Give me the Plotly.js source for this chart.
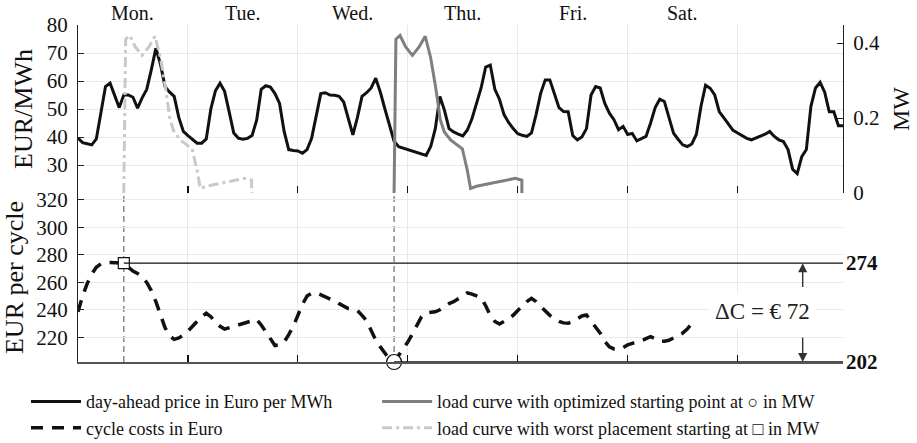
<!DOCTYPE html>
<html>
<head>
<meta charset="utf-8">
<script src="https://cdn.plot.ly/plotly-3.0.1.min.js"></script>
<style>html,body{margin:0;padding:0;background:#fff;}#chart{width:917px;height:443px;}</style>
</head>
<body>
<div id="chart"></div>
<script>
// ---------- data ----------
const dayLabels = ['Mon.', 'Tue.', 'Wed.', 'Thu.', 'Fri.', 'Sat.'];

// day-ahead price, hourly (EUR/MWh), hour 0..167
const price = [
  39.6, 38.0, 37.6, 37.2, 39.3, 48.0, 58.0, 59.2, 55.0, 50.5, 55.0, 55.0,
  54.2, 50.3, 54.0, 57.0, 64.0, 71.7, 66.0, 58.0, 56.0, 54.5, 47.0, 42.0,
  40.5, 39.3, 37.8, 37.8, 39.3, 50.0, 56.5, 59.2, 56.3, 49.0, 41.4, 39.6,
  39.2, 39.5, 40.5, 46.0, 57.0, 58.3, 57.8, 55.5, 52.0, 42.0, 35.5, 35.2,
  35.0, 34.2, 35.5, 39.5, 48.0, 55.5, 55.8, 55.0, 54.9, 54.5, 52.5, 46.2,
  40.8, 47.0, 54.5, 55.8, 57.5, 61.0, 56.0, 50.0, 43.8, 38.5, 36.5, 36.0,
  35.5, 35.0, 34.5, 33.8, 33.4, 36.6, 43.0, 54.5, 49.5, 43.0, 41.8, 41.0,
  40.4, 42.5, 46.5, 52.0, 57.5, 65.0, 65.7, 57.0, 53.5, 48.0, 45.2, 43.0,
  41.2, 40.6, 40.2, 41.5, 48.0, 55.6, 60.4, 60.4, 55.0, 50.5, 49.1, 49.0,
  40.5, 39.0, 40.0, 43.0, 55.0, 58.0, 57.5, 52.0, 48.5, 46.2, 42.6, 43.8,
  40.9, 41.3, 38.6, 39.3, 40.2, 45.0, 50.5, 53.5, 52.7, 47.0, 41.4, 39.2,
  37.2, 36.6, 37.5, 41.0, 51.0, 58.5, 57.4, 55.0, 49.0, 46.8, 44.5, 42.4,
  41.4, 40.3, 39.5, 39.0, 39.6, 40.2, 41.0, 42.0, 40.2, 39.0, 38.4, 35.5,
  28.5, 26.9, 33.0, 35.5, 51.0, 57.5, 59.5, 56.0, 49.0, 49.0, 44.0, 44.0
];

// cycle costs (EUR) for each possible starting hour 0..134
const cycleCost = [
  238.6, 250.0, 259.0, 266.0, 271.0, 273.5, 274.5, 274.5, 274.0, 274.0,
  274.0, 271.0, 268.2, 266.5, 264.0, 260.0, 254.0, 246.0, 236.0, 227.0,
  221.0, 218.5, 219.5, 221.5, 224.5, 228.0, 231.5, 235.0, 237.5, 235.0,
  231.0, 228.0, 226.0, 227.0, 228.5, 229.5, 230.5, 231.5, 232.5, 233.0,
  229.0, 224.0, 218.5, 214.0, 214.5, 216.5, 222.0, 228.0, 236.0, 244.0,
  250.0, 252.0, 252.4, 251.0, 249.5, 248.0, 246.5, 244.5, 242.5, 241.0,
  240.5, 239.5, 236.0, 232.0, 225.0, 218.0, 213.0, 208.0, 204.0, 202.0,
  206.5, 211.0, 216.5, 222.5, 229.0, 235.0, 237.8, 238.5, 238.6, 240.0,
  242.5, 244.5, 245.9, 248.0, 250.5, 252.4, 251.5, 250.0, 248.8, 243.0,
  236.0, 231.5, 229.6, 231.5, 233.5, 236.0, 239.5, 243.0, 246.0, 248.3,
  246.0, 242.5, 239.0, 236.0, 233.5, 231.5, 230.5, 230.2, 231.5, 233.5,
  235.5, 236.2, 232.0, 227.7, 223.0, 217.0, 213.0, 211.5, 211.2, 212.5,
  214.5, 215.6, 216.5, 217.5, 219.0, 220.4, 219.0, 217.0, 217.2, 217.8,
  219.5, 221.5, 223.0, 226.0, 230.0
];

// load curve of one cycle: hours after start, power (MW)
const loadT  = [0, 0.4, 1.3, 2.5, 4.0, 5.5, 6.8, 8.0, 9.1, 10.1, 11.0, 12.4, 14.9, 16.0, 16.7, 18.0, 22.0, 26.5, 27.9, 27.9];
const loadMW = [0, 0.41, 0.42, 0.39, 0.367, 0.39, 0.418, 0.36, 0.28, 0.195, 0.162, 0.141, 0.118, 0.06, 0.012, 0.018, 0.028, 0.039, 0.034, 0];

const worstStart = 10;   // start hour with highest cycle costs (square)
const optStart = 69;     // start hour with lowest cycle costs (circle)

// ---------- derived ----------
const hours = price.map((_, i) => i);
const costHours = cycleCost.map((_, i) => i);
const worstCost = cycleCost[worstStart];
const optCost = cycleCost[optStart];
const xMax = hours[hours.length - 1];
const dayTicks = dayLabels.map((_, i) => (i + 1) * 24);
const dayCenters = dayLabels.map((_, i) => i * 24 + 12);
const y3Range = [optCost, 325.1];
const deltaX = 158.2;

const serif = '"Liberation Serif", "Times New Roman", Times, "DejaVu Serif", serif';
const grid = '#e9e9e9';

const traces = [
  {
    x: hours, y: price, xaxis: 'x', yaxis: 'y', type: 'scatter', mode: 'lines',
    name: 'day-ahead price in Euro per MWh', legend: 'legend', legendrank: 1,
    line: {color: '#111111', width: 3}
  },
  {
    x: loadT.map(t => optStart + t), y: loadMW, xaxis: 'x', yaxis: 'y2', type: 'scatter', mode: 'lines',
    name: 'load curve with optimized starting point at ○ in MW', legend: 'legend2', legendrank: 1,
    line: {color: '#7f7f7f', width: 3}
  },
  {
    x: costHours, y: cycleCost, xaxis: 'x2', yaxis: 'y3', type: 'scatter', mode: 'lines',
    name: 'cycle costs in Euro', legend: 'legend', legendrank: 2,
    line: {color: '#111111', width: 3.5, dash: '12px,9px'}
  },
  {
    x: loadT.map(t => worstStart + t), y: loadMW, xaxis: 'x', yaxis: 'y2', type: 'scatter', mode: 'lines',
    name: 'load curve with worst placement starting at □ in MW', legend: 'legend2', legendrank: 2,
    line: {color: '#c9c9c9', width: 3, dash: '10px,4px,3px,4px'}
  },
  {
    x: [worstStart], y: [worstCost], xaxis: 'x2', yaxis: 'y3', type: 'scatter', mode: 'markers',
    showlegend: false, cliponaxis: false,
    marker: {symbol: 'square', size: 11, color: '#ffffff', line: {color: '#111', width: 1.2}}
  },
  {
    x: [optStart], y: [optCost], xaxis: 'x2', yaxis: 'y3', type: 'scatter', mode: 'markers',
    showlegend: false, cliponaxis: false,
    marker: {symbol: 'circle', size: 15, color: '#ffffff', line: {color: '#111', width: 1.2}}
  }
];

const split = 0.5015;
const tickFont = {family: serif, size: 21, color: '#111'};

const annotations = dayLabels.map((d, i) => ({
  text: d, x: dayCenters[i], xref: 'x', y: 1, yref: 'paper', yanchor: 'bottom', yshift: -1,
  showarrow: false, font: {family: serif, size: 20, color: '#111'}
}));
annotations.push(
  {text: '<b>' + Math.round(worstCost) + '</b>', x: 1, xref: 'paper', xanchor: 'left', xshift: 1,
   y: worstCost, yref: 'y3', showarrow: false, font: {family: serif, size: 21, color: '#111'}},
  {text: '<b>' + Math.round(optCost) + '</b>', x: 1, xref: 'paper', xanchor: 'left', xshift: 1,
   y: optCost, yref: 'y3', showarrow: false, font: {family: serif, size: 21, color: '#111'}},
  {text: 'ΔC = € ' + Math.round(worstCost - optCost), x: 149.5, xref: 'x2', y: (worstCost + optCost) / 2 + 1, yref: 'y3',
   showarrow: false, bgcolor: '#ffffff', borderpad: 5, font: {family: serif, size: 23, color: '#222'}},
  {text: '', x: deltaX, xref: 'x2', y: worstCost, yref: 'y3', ax: deltaX, axref: 'x2', ay: 255.5, ayref: 'y3',
   showarrow: true, arrowhead: 2, arrowsize: 1.3, arrowwidth: 1.4, arrowcolor: '#333'},
  {text: '', x: deltaX, xref: 'x2', y: optCost, yref: 'y3', ax: deltaX, axref: 'x2', ay: 221, ayref: 'y3',
   showarrow: true, arrowhead: 2, arrowsize: 1.3, arrowwidth: 1.4, arrowcolor: '#333'}
);

const shapes = [
  {type: 'line', xref: 'x2', yref: 'y3', x0: worstStart, x1: xMax, y0: worstCost, y1: worstCost,
   line: {color: '#111', width: 1.2}},
  {type: 'line', xref: 'x2', yref: 'y3', x0: optStart, x1: xMax, y0: optCost, y1: optCost,
   line: {color: '#111', width: 1.5}},
  {type: 'line', xref: 'x2', yref: 'y3', x0: worstStart, x1: worstStart, y0: optCost, y1: y3Range[1],
   line: {color: '#777', width: 1.3, dash: '6px,4px'}, layer: 'below'},
  {type: 'line', xref: 'x2', yref: 'y3', x0: optStart, x1: optStart, y0: optCost, y1: y3Range[1],
   line: {color: '#777', width: 1.3, dash: '6px,4px'}, layer: 'below'}
];

const legendBase = {
  orientation: 'v', xanchor: 'left', y: -0.063, yanchor: 'top', itemwidth: 50,
  font: {family: serif, size: 18, color: '#111'}, traceorder: 'normal',
  bgcolor: 'rgba(0,0,0,0)', tracegroupgap: 0
};

const layout = {
  width: 917, height: 443,
  margin: {l: 78, r: 74, t: 25, b: 81, pad: 0, autoexpand: false},
  paper_bgcolor: '#ffffff', plot_bgcolor: '#ffffff',
  font: {family: serif, color: '#111'},
  showlegend: true,
  legend: Object.assign({}, legendBase, {x: -0.068}),
  legend2: Object.assign({}, legendBase, {x: 0.391}),
  xaxis: {
    domain: [0, 1], anchor: 'y', range: [0, xMax], showline: false, zeroline: false,
    tickvals: dayTicks, showticklabels: false, ticks: 'inside', ticklen: 7, tickcolor: '#111', tickwidth: 1.2,
    showgrid: true, gridcolor: grid, gridwidth: 1
  },
  xaxis2: {
    domain: [0, 1], anchor: 'y3', range: [0, xMax], matches: 'x', showline: true, linecolor: '#555', linewidth: 1.5,
    zeroline: false, tickvals: dayTicks, showticklabels: false, ticks: 'inside', ticklen: 7, tickcolor: '#111', tickwidth: 1.2,
    showgrid: true, gridcolor: grid, gridwidth: 1
  },
  yaxis: {
    domain: [split, 1], anchor: 'x', range: [20, 80], tickvals: [30, 40, 50, 60, 70, 80],
    showline: true, linecolor: '#222', linewidth: 1, zeroline: false,
    ticks: 'inside', ticklen: 6, tickcolor: '#222', ticklabelstandoff: 5,
    showgrid: true, gridcolor: grid, tickfont: tickFont,
    title: {text: 'EUR/MWh', font: {family: serif, size: 26, color: '#111'}, standoff: 6}
  },
  yaxis2: {
    domain: [split, 1], anchor: 'x', overlaying: 'y', side: 'right', range: [0, 0.448],
    tickvals: [0, 0.2, 0.4], ticktext: ['0', '0.2', '0.4'],
    showline: true, linecolor: '#222', linewidth: 1, zeroline: false, showgrid: false,
    ticks: 'inside', ticklen: 6, tickcolor: '#222', ticklabelstandoff: 5, tickfont: tickFont,
    title: {text: 'MW', font: {family: serif, size: 24, color: '#111'}, standoff: 13}
  },
  yaxis3: {
    domain: [0, split], anchor: 'x2', range: y3Range, tickvals: [220, 240, 260, 280, 300, 320],
    showline: true, linecolor: '#222', linewidth: 1, zeroline: false,
    ticks: 'inside', ticklen: 6, tickcolor: '#222', ticklabelstandoff: 5,
    showgrid: true, gridcolor: grid, tickfont: tickFont,
    title: {text: 'EUR per cycle', font: {family: serif, size: 26, color: '#111'}, standoff: 6}
  },
  annotations: annotations,
  shapes: shapes
};

Plotly.newPlot('chart', traces, layout, {displayModeBar: false, staticPlot: true});
</script>
</body>
</html>
